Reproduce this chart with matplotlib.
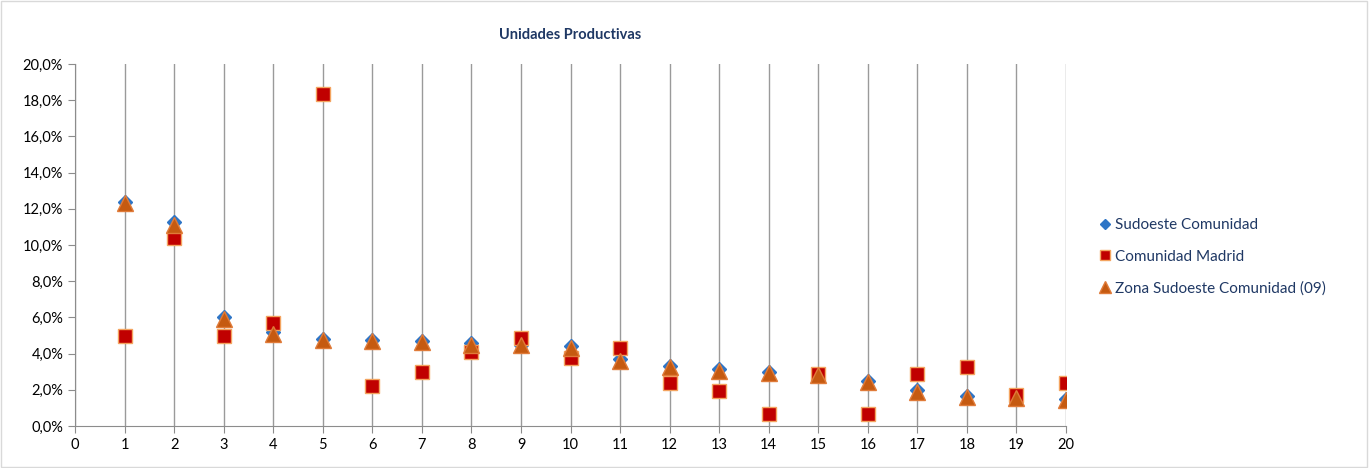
import matplotlib.pyplot as plt
from matplotlib.ticker import FuncFormatter

plt.rcParams['font.family'] = ['Lato', 'DejaVu Sans']

x = list(range(1, 21))
sudoeste = [12.4, 11.25, 6.0, 5.2, 4.8, 4.75, 4.7, 4.6, 4.5, 4.4,
            3.7, 3.3, 3.15, 3.0, 2.85, 2.5, 2.0, 1.65, 1.6, 1.5]
madrid = [5.0, 10.4, 5.0, 5.7, 18.35, 2.2, 3.0, 4.1, 4.85, 3.75,
          4.3, 2.35, 1.95, 0.65, 2.9, 0.65, 2.9, 3.25, 1.7, 2.35]
zona = [12.3, 11.1, 5.9, 5.1, 4.75, 4.7, 4.65, 4.5, 4.45, 4.3,
        3.6, 3.25, 3.05, 2.95, 2.8, 2.45, 1.9, 1.6, 1.55, 1.45]

fig = plt.figure(figsize=(13.7, 4.68), dpi=100)
ax = fig.add_axes([75 / 1370, 42 / 468, 991 / 1370, 362 / 468])

ax.plot(x, sudoeste, linestyle='none', marker='D', markersize=7,
        color='#2E75C6', markeredgecolor='#2E75C6', label='Sudoeste Comunidad', zorder=3)
ax.plot(x, madrid, linestyle='none', marker='s', markersize=9.5,
        color='#C00000', markeredgecolor='#F4A460', markeredgewidth=1, label='Comunidad Madrid', zorder=4)
ax.plot(x, zona, linestyle='none', marker='^', markersize=12,
        color='#C55A11', markeredgecolor='#E07B39', markeredgewidth=1, label='Zona Sudoeste Comunidad (09)', zorder=5)

ax.set_xlim(0, 20)
ax.set_ylim(0, 20)
ax.set_xticks(range(0, 21))
ax.set_yticks(range(0, 21, 2))
ax.yaxis.set_major_formatter(FuncFormatter(lambda v, p: f"{v:.1f}%".replace('.', ',')))

ax.grid(axis='x', color='#9a9a9a', linewidth=1)
ax.set_axisbelow(True)
for s in ['top', 'right']:
    ax.spines[s].set_visible(False)
for s in ['left', 'bottom']:
    ax.spines[s].set_color('#8c8c8c')
ax.tick_params(colors='#8c8c8c', labelcolor='black', labelsize=10.5, direction='out', length=5)

ax.set_title('Unidades Productivas', fontsize=10.5, fontweight='bold', color='#1F3864', pad=18)

leg = fig.legend(loc='center left', bbox_to_anchor=(1084 / 1370, 1 - 257 / 468), frameon=False,
                 fontsize=11, handletextpad=0.1, labelspacing=1.15, handlelength=1.0,
                 markerscale=0.75)
for t in leg.get_texts():
    t.set_color('#1F3864')

fig.patches.append(plt.Rectangle((0.001, 0.002), 0.997, 0.995, transform=fig.transFigure,
                                 fill=False, edgecolor='#d9d9d9', linewidth=1))

fig.savefig('out.png', dpi=100)
